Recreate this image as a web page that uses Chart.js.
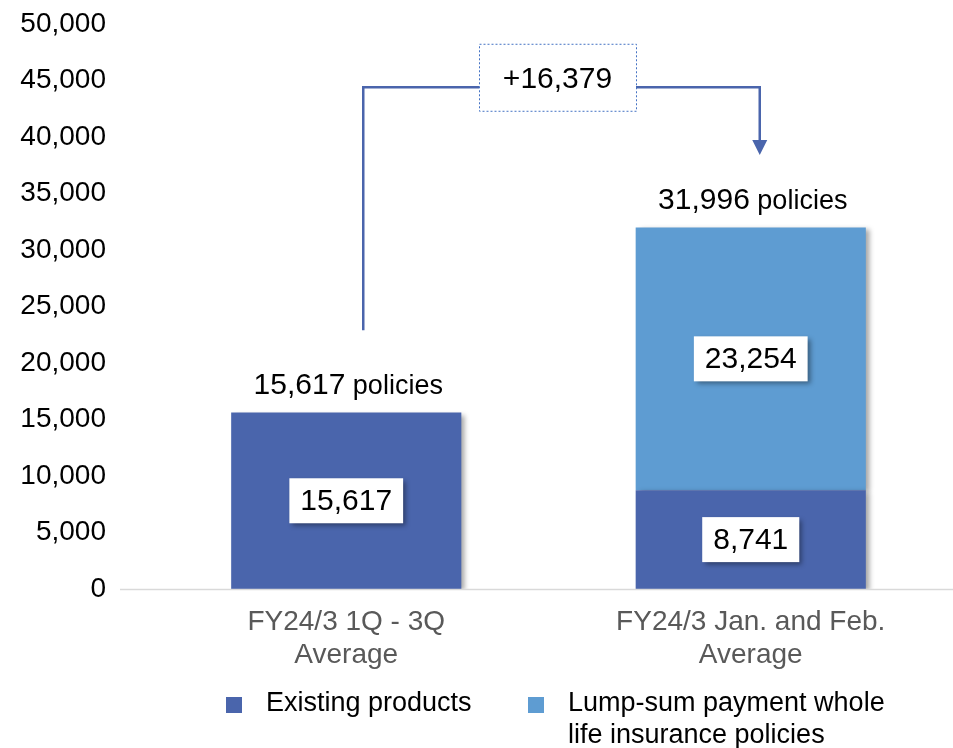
<!DOCTYPE html>
<html>
<head>
<meta charset="utf-8">
<script src="https://cdn.jsdelivr.net/npm/chart.js@4.4.1/dist/chart.umd.min.js"></script>
<style>
  html, body { margin: 0; padding: 0; background: #fff; }
  #wrap { width: 953px; height: 748px; position: relative; }
</style>
</head>
<body>
<div id="wrap"><canvas id="policy-chart"></canvas></div>
<script>
var categories = [['FY24/3 1Q - 3Q', 'Average'], ['FY24/3 Jan. and Feb.', 'Average']];
var seriesNames = ['Existing products', ['Lump-sum payment whole', 'life insurance policies']];
var existingProducts = [15617, 8741];
var lumpSumPolicies = [null, 23254];
var totalPolicies = [15617, 31996];
var increase = 16379;
var yTicks = [0, 5000, 10000, 15000, 20000, 25000, 30000, 35000, 40000, 45000, 50000];

var darkBlue = '#4A65AC';
var lightBlue = '#5E9CD2';
var FONT = '"Liberation Sans", Arial, sans-serif';

var fmt = function (v) {
  return Number(v).toLocaleString('en-US');
};

// soft drop shadow on the bars
var barShadow = {
  id: 'barShadow',
  beforeDatasetsDraw: function (chart) {
    var ctx = chart.ctx;
    ctx.save();
    ctx.shadowColor = 'rgba(0,0,0,0.35)';
    ctx.shadowBlur = 5;
    ctx.shadowOffsetX = 4;
    ctx.shadowOffsetY = 2;
  },
  afterDatasetsDraw: function (chart) {
    chart.ctx.restore();
  }
};

var labelsPlugin = {
  id: 'labelsPlugin',
  afterDatasetsDraw: function (chart) {
    var ctx = chart.ctx;
    var yScale = chart.scales.y;
    var xScale = chart.scales.x;

    // baseline
    ctx.save();
    ctx.strokeStyle = '#d9d9d9';
    ctx.lineWidth = 1.5;
    ctx.beginPath();
    ctx.moveTo(120, yScale.getPixelForValue(0) + 0.5);
    ctx.lineTo(chart.width, yScale.getPixelForValue(0) + 0.5);
    ctx.stroke();
    ctx.restore();

    // white value boxes inside segments
    chart.data.datasets.forEach(function (ds, di) {
      var meta = chart.getDatasetMeta(di);
      meta.data.forEach(function (bar, i) {
        var v = ds.data[i];
        if (!v) return;
        var cy = (bar.y + bar.base) / 2;
        var txt = fmt(v);
        ctx.save();
        ctx.font = '30px ' + FONT;
        var w = ctx.measureText(txt).width + 22;
        var h = 45;
        ctx.shadowColor = 'rgba(0,0,0,0.4)';
        ctx.shadowBlur = 5;
        ctx.shadowOffsetX = 3;
        ctx.shadowOffsetY = 3;
        ctx.fillStyle = '#fff';
        ctx.fillRect(bar.x - w / 2, cy - h / 2, w, h);
        ctx.restore();
        ctx.save();
        ctx.font = '30px ' + FONT;
        ctx.fillStyle = '#000';
        ctx.textAlign = 'center';
        ctx.textBaseline = 'middle';
        ctx.fillText(txt, bar.x, cy + 1);
        ctx.restore();
      });
    });

    // totals above bars
    totalPolicies.forEach(function (t, i) {
      var x = xScale.getPixelForValue(i) + 2;
      var y = yScale.getPixelForValue(t) - 27;
      var numTxt = fmt(t);
      var tailTxt = ' policies';
      ctx.save();
      ctx.textBaseline = 'middle';
      ctx.fillStyle = '#000';
      ctx.font = '30px ' + FONT;
      var w1 = ctx.measureText(numTxt).width;
      ctx.font = '27px ' + FONT;
      var w2 = ctx.measureText(tailTxt).width;
      var x0 = x - (w1 + w2) / 2;
      ctx.font = '30px ' + FONT;
      ctx.fillText(numTxt, x0, y);
      ctx.font = '27px ' + FONT;
      ctx.fillText(tailTxt, x0 + w1, y + 1);
      ctx.restore();
    });

    // difference bracket with arrow
    var leftX = xScale.getPixelForValue(0) + 17;
    var rightX = xScale.getPixelForValue(1) + 9;
    var topY = yScale.getPixelForValue(44400);
    var startY = yScale.getPixelForValue(22900);
    var tipY = yScale.getPixelForValue(38400);
    var boxW = 157, boxH = 67;
    var boxCx = (leftX + rightX) / 2 - 4;
    var boxCy = topY - 10;
    ctx.save();
    ctx.strokeStyle = darkBlue;
    ctx.lineWidth = 2.5;
    ctx.beginPath();
    ctx.moveTo(leftX, startY);
    ctx.lineTo(leftX, topY);
    ctx.lineTo(boxCx - boxW / 2, topY);
    ctx.moveTo(boxCx + boxW / 2, topY);
    ctx.lineTo(rightX, topY);
    ctx.lineTo(rightX, tipY - 14);
    ctx.stroke();
    ctx.fillStyle = darkBlue;
    ctx.beginPath();
    ctx.moveTo(rightX - 7.5, tipY - 15);
    ctx.lineTo(rightX + 7.5, tipY - 15);
    ctx.lineTo(rightX, tipY);
    ctx.closePath();
    ctx.fill();
    ctx.strokeStyle = '#4472C4';
    ctx.lineWidth = 1;
    ctx.setLineDash([2, 2]);
    ctx.strokeRect(boxCx - boxW / 2 + 0.5, boxCy - boxH / 2 + 0.5, boxW, boxH);
    ctx.setLineDash([]);
    ctx.fillStyle = '#000';
    ctx.font = '30px ' + FONT;
    ctx.textAlign = 'center';
    ctx.textBaseline = 'middle';
    ctx.fillText('+' + fmt(increase), boxCx, boxCy + 2);
    ctx.restore();
  },
  afterDraw: function (chart) {
    // legend
    var ctx = chart.ctx;
    var items = [
      { color: darkBlue, sq: 226, tx: 266, name: seriesNames[0] },
      { color: lightBlue, sq: 528, tx: 568, name: seriesNames[1] }
    ];
    ctx.save();
    ctx.font = '27px ' + FONT;
    ctx.textBaseline = 'middle';
    items.forEach(function (it) {
      ctx.fillStyle = it.color;
      ctx.fillRect(it.sq, 697, 16, 16);
      ctx.fillStyle = '#000';
      var lines = Array.isArray(it.name) ? it.name : [it.name];
      lines.forEach(function (ln, k) {
        ctx.fillText(ln, it.tx, 704 + k * 32);
      });
    });
    ctx.restore();
  }
};

var config = {
  type: 'bar',
  data: {
    labels: categories,
    datasets: [{
      label: 'Existing products',
      data: existingProducts,
      backgroundColor: darkBlue,
      borderWidth: 0,
      barPercentage: 0.569,
      categoryPercentage: 1
    }, {
      label: 'Lump-sum payment whole life insurance policies',
      data: lumpSumPolicies,
      backgroundColor: lightBlue,
      borderWidth: 0,
      barPercentage: 0.569,
      categoryPercentage: 1
    }]
  },
  options: {
    responsive: true,
    maintainAspectRatio: false,
    animation: false,
    layout: {
      padding: { top: 24, right: -7, bottom: 0, left: 0 }
    },
    plugins: {
      legend: { display: false },
      tooltip: { enabled: false }
    },
    scales: {
      x: {
        stacked: true,
        grid: { display: false },
        border: { display: false },
        ticks: {
          color: '#595959',
          padding: 9,
          maxRotation: 0,
          autoSkip: false,
          font: { family: FONT, size: 28, lineHeight: 1.18 }
        },
        afterFit: function (scale) { scale.height = 159; }
      },
      y: {
        stacked: true,
        min: yTicks[0],
        max: yTicks[yTicks.length - 1],
        grid: { display: false, drawTicks: false },
        border: { display: false },
        afterBuildTicks: function (scale) {
          scale.ticks = yTicks.map(function (v) { return { value: v }; });
        },
        ticks: {
          color: '#000',
          padding: 38,
          font: { family: FONT, size: 28 },
          callback: function (v) { return fmt(v); }
        },
        afterFit: function (scale) {
          scale.width = 144;
          scale.paddingTop = 0;
          scale.paddingBottom = 0;
        }
      }
    }
  },
  plugins: [barShadow, labelsPlugin]
};

window.onload = function () {
  var ctx = document.getElementById('policy-chart').getContext('2d');
  window.policyChart = new Chart(ctx, config);
};
</script>
</body>
</html>
